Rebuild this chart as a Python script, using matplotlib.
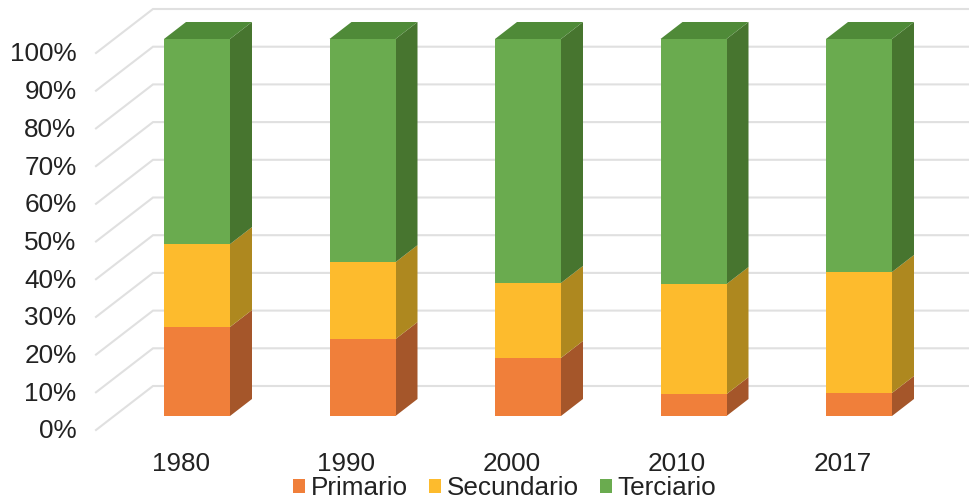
import matplotlib
matplotlib.use("Agg")
import matplotlib.pyplot as plt
from matplotlib.patches import Polygon, Patch
from matplotlib.transforms import ScaledTranslation
import numpy as np

plt.rcParams['font.family'] = ['Liberation Sans', 'DejaVu Sans']

years = ['1980', '1990', '2000', '2010', '2017']
primario = [23.6, 20.4, 15.4, 5.8, 6.1]
secundario = [22.0, 20.4, 19.9, 29.2, 32.1]
terciario = [54.4, 59.2, 64.7, 65.0, 61.8]
series_names = ['Primario', 'Secundario', 'Terciario']
y_ticks = list(range(0, 101, 10))

front_cols = ['#F07F3A', '#FDBB2D', '#6AAB4F']
side_cols = ['#A5562A', '#AE881F', '#47752F']
top_col = '#4F8A38'
grid_col = '#E0E0E0'
text_col = '#222222'
font_size = 18.8

W, H = 969, 500
fig = plt.figure(figsize=(W / 100, H / 100), dpi=100)
y0, y100, xc0, xstep = 416, 39, 197, 165.5
ax_left = 80
ax = fig.add_axes([ax_left / W, (H - y0) / H, (W - ax_left) / W, y0 / H])
py = (y0 - y100) / 100
ax.set_xlim((ax_left - xc0) / xstep, (W - xc0) / xstep)
ax.set_ylim(0, y0 / py)
for s in ax.spines.values():
    s.set_visible(False)

# depth of the bars and of the wall, in data units
bw = 66 / xstep
ddx, ddy = 22 / xstep, 17 / py
gx_front, gx_back = (96 - xc0) / xstep, (153 - xc0) / xstep
gy_front, gy_back = -14 / py, 30 / py

for t in y_ticks:
    ax.plot([gx_front, gx_back, (W - xc0) / xstep],
            [t + gy_front, t + gy_back, t + gy_back],
            color=grid_col, lw=1.5, clip_on=False, zorder=1,
            solid_joinstyle='miter')

x = np.arange(len(years))
bottom = np.zeros(len(years))
for vals, fc, sc, name in zip([primario, secundario, terciario], front_cols, side_cols, series_names):
    vals = np.array(vals)
    ax.bar(x, vals, width=bw, bottom=bottom, color=fc, zorder=3, label=name, linewidth=0)
    for xi, b, v in zip(x, bottom, vals):
        r = xi + bw / 2
        ax.add_patch(Polygon([(r, b), (r + ddx, b + ddy), (r + ddx, b + v + ddy), (r, b + v)],
                             closed=True, fc=sc, ec='none', zorder=2.5, clip_on=False))
    bottom = bottom + vals

for xi, b in zip(x, bottom):
    l, r = xi - bw / 2, xi + bw / 2
    ax.add_patch(Polygon([(l, b), (r, b), (r + ddx, b + ddy), (l + ddx, b + ddy)],
                         closed=True, fc=top_col, ec='none', zorder=2.5, clip_on=False))

ax.set_yticks(y_ticks)
ax.set_yticklabels([f'{t}%' for t in y_ticks], fontsize=font_size, color=text_col)
ax.set_xticks(x)
ax.set_xticklabels(years, fontsize=font_size, color=text_col)
ax.tick_params(axis='both', length=0)
ax.tick_params(axis='y', pad=2.6)
ax.tick_params(axis='x', pad=26)

off_y = ScaledTranslation(0, -13 / 100, fig.dpi_scale_trans)
off_x = ScaledTranslation(-16.5 / 100, 0, fig.dpi_scale_trans)
for lab in ax.get_yticklabels():
    lab.set_transform(lab.get_transform() + off_y)
for lab in ax.get_xticklabels():
    lab.set_transform(lab.get_transform() + off_x)

handles = [Patch(fc=c, ec='none', label=n) for c, n in zip(front_cols, series_names)]
leg = ax.legend(handles=handles, loc='center', bbox_to_anchor=(504.5 / W, 12 / H),
                bbox_transform=fig.transFigure, ncol=3, frameon=False, fontsize=font_size,
                handlelength=0.47, handleheight=0.47, handletextpad=0.22, columnspacing=0.8,
                borderpad=0, labelcolor=text_col)

fig.savefig('out.png', dpi=100)
